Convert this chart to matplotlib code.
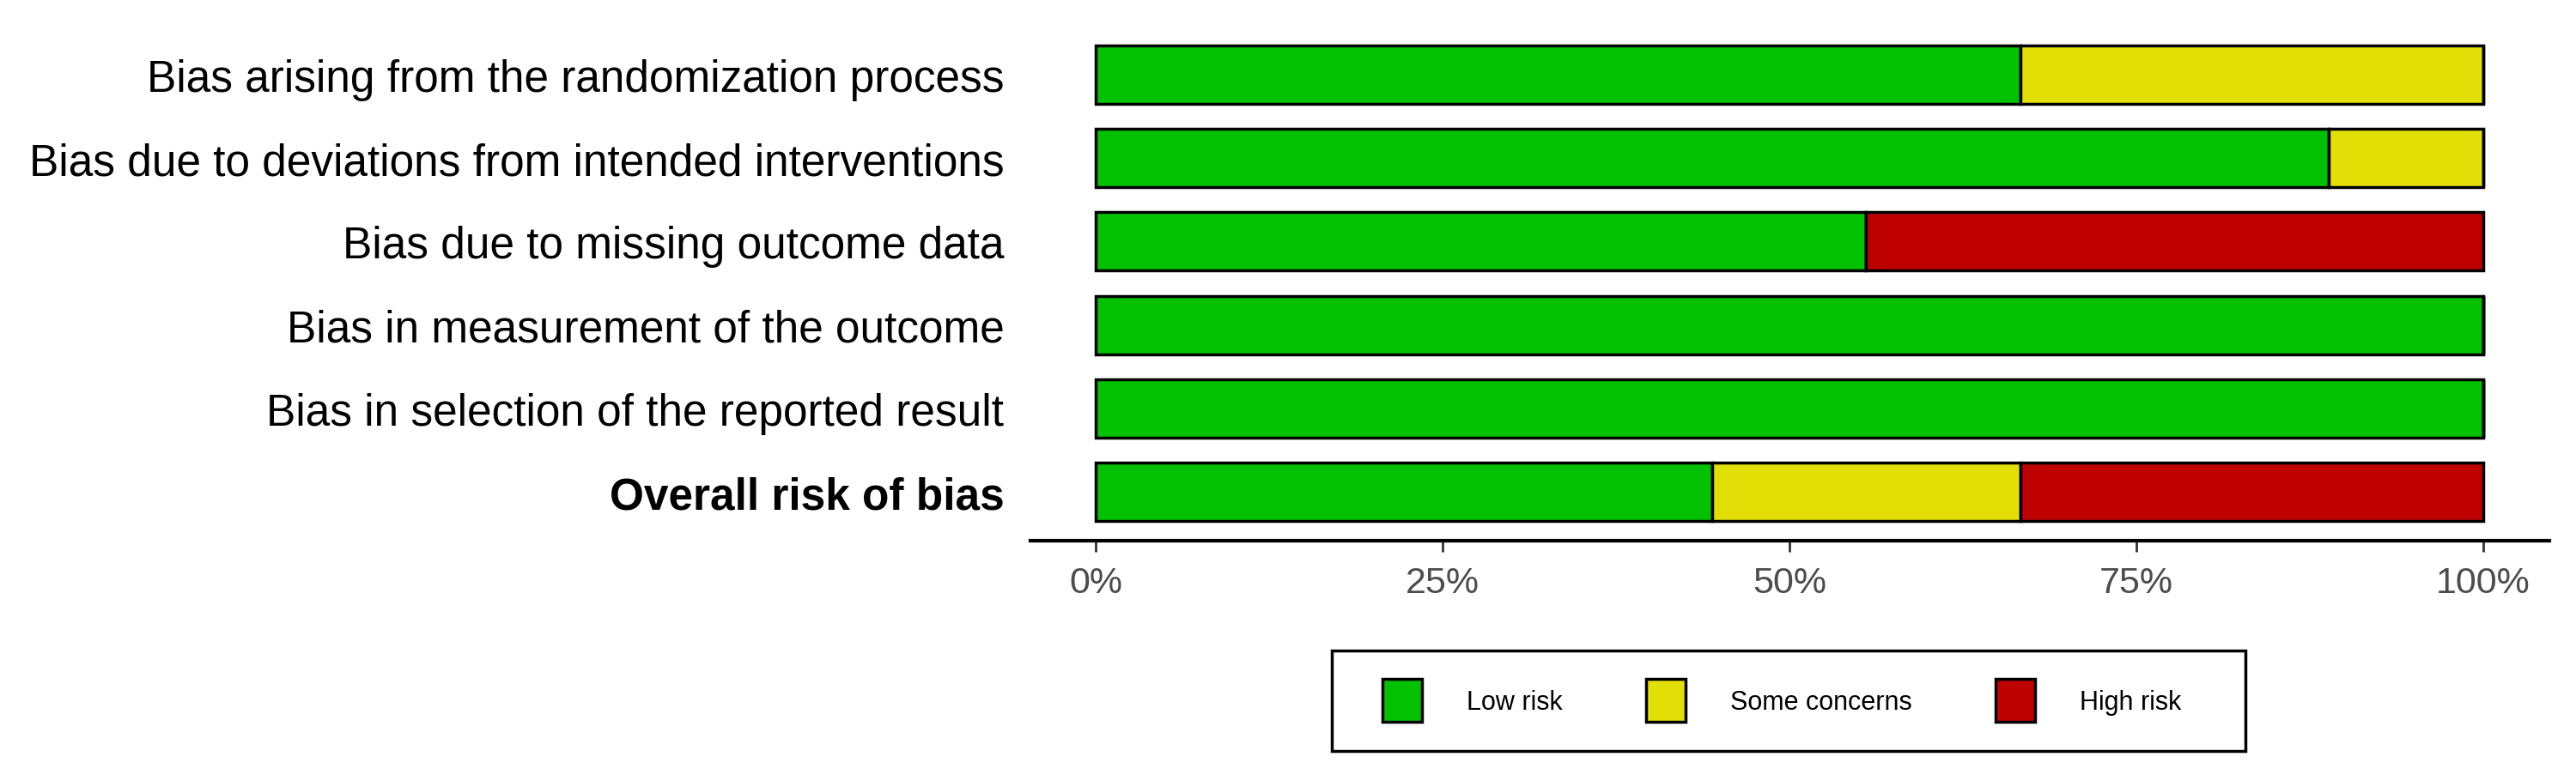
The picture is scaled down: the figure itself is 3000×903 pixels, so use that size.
import matplotlib.pyplot as plt
from matplotlib.patches import Patch, Rectangle

# Dominios e proporcoes (9 estudos)
dominios = [
    'Bias arising from the randomization process',
    'Bias due to deviations from intended interventions',
    'Bias due to missing outcome data',
    'Bias in measurement of the outcome',
    'Bias in selection of the reported result',
    'Overall risk of bias',
]
baixo = [6/9, 8/9, 5/9, 1.0, 1.0, 4/9]
algumas = [3/9, 1/9, 0.0, 0.0, 0.0, 2/9]
alto = [0.0, 0.0, 4/9, 0.0, 0.0, 3/9]

categorias = ['Low risk', 'Some concerns', 'High risk']
cores = ['#02C100', '#E2DF07', '#BF0000']
ticks = [0, 0.25, 0.5, 0.75, 1.0]
tick_labels = ['0%', '25%', '50%', '75%', '100%']

plt.rcParams['font.family'] = ['Liberation Sans', 'DejaVu Sans']

fig = plt.figure(figsize=(30, 9.04), dpi=100)
ax = fig.add_axes([0.4, 0.302, 0.5897, 0.6637])

y = list(range(len(dominios)))
esquerda = [0.0] * len(dominios)
for valores, cor in zip([baixo, algumas, alto], cores):
    ax.barh(y, valores, left=esquerda, height=0.7, color=cor,
            edgecolor='black', linewidth=2.5)
    esquerda = [e + v for e, v in zip(esquerda, valores)]

ax.set_xlim(-0.047, 1.048)
ax.set_ylim(5.586, -0.586)

ax.set_yticks(y)
ax.set_yticklabels(dominios, fontsize=37)
ax.get_yticklabels()[-1].set_fontweight('bold')
ax.tick_params(axis='y', length=0, pad=22)

ax.set_xticks(ticks)
ax.set_xticklabels(tick_labels, fontsize=31, color='#4D4D4D')
ax.tick_params(axis='x', length=9, width=2, color='#333333', pad=12)

for lado in ['top', 'right', 'left']:
    ax.spines[lado].set_visible(False)
ax.spines['bottom'].set_linewidth(3)

# Caixa da legenda
fig.patches.append(Rectangle((1551/3000, 1 - 876/904), 1064/3000, 117/904,
                             transform=fig.transFigure, fill=False,
                             edgecolor='black', linewidth=2.5))
handles = [Patch(facecolor=c, edgecolor='black', linewidth=2.5, label=l)
           for c, l in zip(cores, categorias)]
fig.legend(handles=handles, loc='center', bbox_to_anchor=(2075/3000, 1 - 817/904),
           ncol=3, frameon=False, fontsize=22, handlelength=1.5, handleheight=2.14,
           handletextpad=1.7, columnspacing=3.2)

plt.savefig('out.png', dpi=100)
